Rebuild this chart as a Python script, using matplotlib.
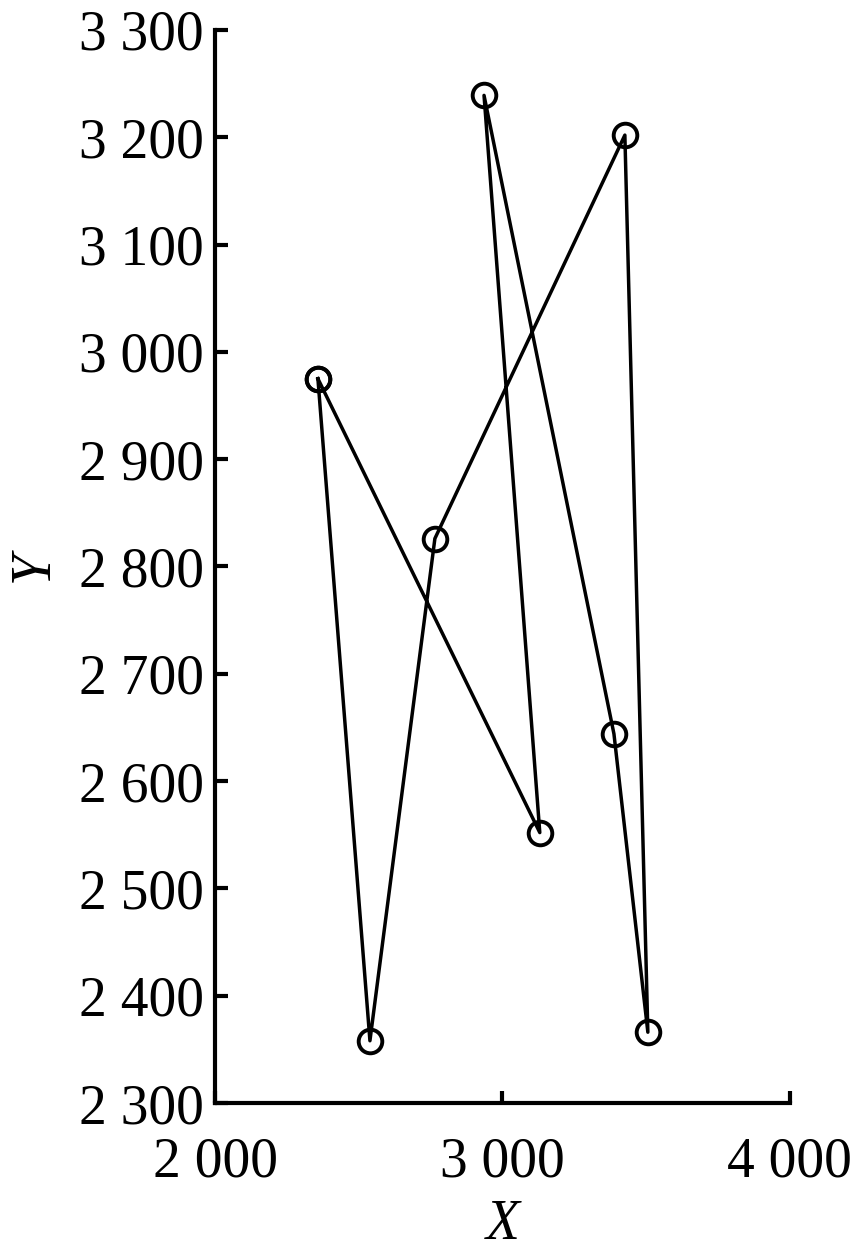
import matplotlib
matplotlib.use('Agg')
import matplotlib.pyplot as plt
from matplotlib.ticker import FuncFormatter

# closed route through the points, in drawing order
x = [2358, 2539, 2765, 3426, 3506, 3388, 2936, 3130]
y = [2975, 2358, 2826, 3202, 2366, 2644, 3239, 2552]

xticks = [2000, 3000, 4000]
yticks = [2300, 2400, 2500, 2600, 2700, 2800, 2900, 3000, 3100, 3200, 3300]

plt.rcParams['font.family'] = ['Liberation Serif', 'DejaVu Serif']


def fmt(v, pos):
    return ('%d' % v)[:-3] + ' ' + ('%d' % v)[-3:]


fig = plt.figure(figsize=(8.67, 12.58), dpi=100)
ax = fig.add_axes([0.248, 0.1232, 0.663, 0.8530])

ax.plot(x + x[:1], y + y[:1], color='black', linewidth=2.5,
        marker='o', markersize=17, markerfacecolor='none',
        markeredgewidth=2.8, markeredgecolor='black')

ax.set_xlim(2000, 4000)
ax.set_ylim(2300, 3300)
ax.set_xticks(xticks)
ax.set_yticks(yticks)
ax.xaxis.set_major_formatter(FuncFormatter(fmt))
ax.yaxis.set_major_formatter(FuncFormatter(fmt))

for s in ['top', 'right']:
    ax.spines[s].set_visible(False)
for s in ['left', 'bottom']:
    ax.spines[s].set_linewidth(3)

ax.tick_params(direction='in', length=9, width=3, labelsize=40, pad=8)
ax.tick_params(axis='x', pad=24)
ax.set_xlabel('X', fontsize=40, style='italic', labelpad=8)
ax.set_ylabel('Y', fontsize=40, style='italic', labelpad=14)

fig.savefig('out.png', dpi=100)
